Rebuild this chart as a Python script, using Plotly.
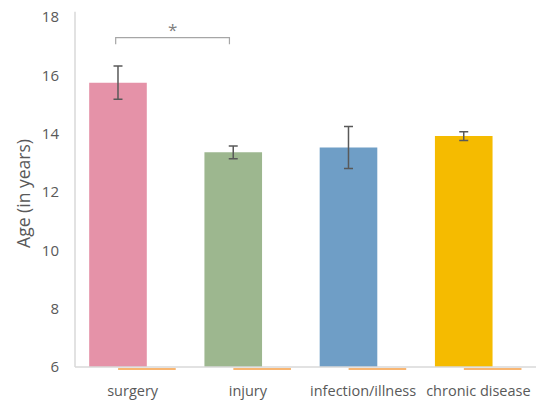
import plotly.graph_objects as go

# Mean age per cause, with error values
categories = ["surgery", "injury", "infection/illness", "chronic disease"]
mean_age = [15.75, 13.36, 13.53, 13.92]
err_age = [0.57, 0.22, 0.72, 0.15]
bar_colors = ["#E592A8", "#9DB78F", "#6F9EC6", "#F5BB00"]
# Second series: sits just under the axis floor, shows up as a thin line
second_series = [5.967, 5.967, 5.967, 5.967]

x_idx = list(range(len(categories)))
text_color = "#595959"
axis_color = "#D9D9D9"
font_family = "Open Sans, Liberation Sans, sans-serif"

Y_FLOOR = 6.0
Y_MIN, Y_MAX = 5.9, 18.0
BAR_W = 0.5
MAIN_OFF = -0.377
SECOND_OFF = -0.126

fig = go.Figure()

fig.add_trace(go.Bar(
    x=x_idx,
    y=[v - Y_FLOOR for v in mean_age],
    base=Y_FLOOR,
    width=BAR_W,
    offset=MAIN_OFF,
    marker=dict(color=bar_colors, line=dict(width=0)),
    error_y=dict(type="data", array=err_age, visible=True,
                 color="#595959", thickness=1.5, width=4.5),
    showlegend=False,
))

fig.add_trace(go.Bar(
    x=x_idx,
    y=[-0.045] * len(second_series),
    base=second_series,
    width=BAR_W,
    offset=SECOND_OFF,
    marker=dict(color="#F8B673", line=dict(width=0)),
    showlegend=False,
    hoverinfo="skip",
))

# Axis lines: category axis sits at the floor value
fig.add_shape(type="line", xref="paper", yref="y", x0=0, x1=1,
              y0=Y_FLOOR, y1=Y_FLOOR, line=dict(color=axis_color, width=1.5))
floor_paper = (Y_FLOOR - Y_MIN) / (Y_MAX - Y_MIN)
fig.add_shape(type="line", xref="paper", yref="paper", x0=0, x1=0,
              y0=floor_paper, y1=1.015, line=dict(color=axis_color, width=1.5))

# Significance bracket between surgery and injury
br_y, br_tip = 17.29, 17.07
x0, x1 = -0.147, 0.84
fig.add_shape(type="path",
              path=f"M {x0},{br_tip} L {x0},{br_y} L {x1},{br_y} L {x1},{br_tip}",
              xref="x", yref="y", line=dict(color="#A6A6A6", width=1.2))
fig.add_annotation(x=(x0 + x1) / 2, y=17.58, text="*", showarrow=False,
                   xref="x", yref="y",
                   font=dict(size=17, color="#808080", family=font_family))

fig.update_layout(
    width=544, height=400,
    margin=dict(l=75, r=8, t=17, b=30),
    plot_bgcolor="white", paper_bgcolor="white",
    barmode="overlay",
    font=dict(family=font_family, color=text_color, size=14),
    xaxis=dict(
        tickmode="array", tickvals=x_idx, ticktext=categories,
        range=[-0.5, 3.5],
        showline=False, showgrid=False, zeroline=False, ticks="",
        ticklabelstandoff=10,
        automargin=False,
        tickfont=dict(size=14.5, color=text_color),
    ),
    yaxis=dict(
        range=[Y_MIN, Y_MAX], tickmode="array",
        tickvals=[6, 8, 10, 12, 14, 16, 18],
        showline=False, showgrid=False, zeroline=False, ticks="",
        ticklabelstandoff=15,
        automargin=False,
        tickfont=dict(size=15, color=text_color),
        title=dict(text="Age (in years)", standoff=6,
                   font=dict(size=17.5, color=text_color)),
    ),
)

fig.write_html("out.html")
